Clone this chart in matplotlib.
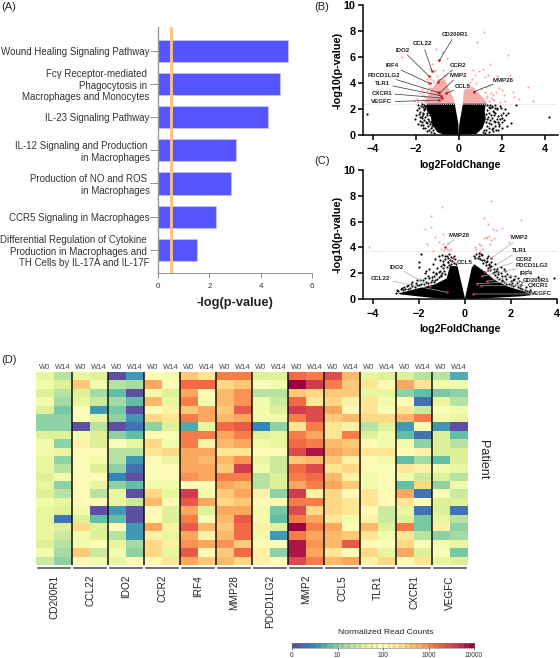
import numpy as np
import matplotlib
matplotlib.use("Agg")
import matplotlib.pyplot as plt

plt.rcParams['font.family'] = ['Liberation Sans', 'DejaVu Sans']

W, H = 560, 658

# panel A
pathways = ["Wound Healing Signaling Pathway",
            "Fc\u03b3 Receptor-mediated \nPhagocytosis in \nMacrophages and Monocytes",
            "IL-23 Signaling Pathway",
            "IL-12 Signaling and Production \nin Macrophages",
            "Production of NO and ROS \nin Macrophages",
            "CCR5 Signaling in Macrophages",
            "Differential Regulation of Cytokine \nProduction in Macrophages and \nTH Cells by IL-17A and IL-17F"]
pathway_vals = [5.05, 4.74, 4.29, 3.02, 2.86, 2.26, 1.51]
threshold = 0.5

# panel B, the dense cloud is kept as its outline
b_black_left_x = [-0.02, -0.19, -1.45, -1.5, -1.3, -1.25, -1.0, -0.7, 0]
b_black_left_y = [0.8, 2.4, 2.4, 1.9, 1.4, 0.8, 0.2, 0, 0]
b_black_right_x = [0.02, 0.19, 1.25, 1.2, 1.25, 1.1, 0.8, 0]
b_black_right_y = [0.8, 2.4, 2.4, 1.8, 1.2, 0.5, 0.05, 0]
b_pink_left_x = [-1.62, -1.4, -1.16, -0.95, -0.66, -0.48, -0.28, -0.19]
b_pink_left_y = [2.4, 3.14, 3.76, 4.3, 4.35, 3.58, 2.94, 2.4]
b_pink_right_x = [0.19, 0.22, 0.42, 0.7, 1.05, 1.35]
b_pink_right_y = [2.4, 3.32, 3.9, 3.62, 2.98, 2.4]
b_black_x = [-4.25, 4.2, 2.65, 2.3, 2.2, 2.4, -2.05, -1.95, -2.0, -1.9, -1.85, -1.75, -1.7, -1.65, -1.8,
             -1.75, -1.6, -1.7, -1.9, 1.7, 1.75, 1.8, 1.9, 2.0, 1.85, 1.95, 2.05, 2.0, 1.65, 1.7, 1.9, 1.6,
             2.15, 1.8, 1.7, -1.65, -1.85, -1.55, 2.1, 2.25, 1.55]
b_black_y = [1.6, 1.35, 2.3, 1.7, 1.55, 0.9, 1.25, 1.9, 1.55, 2.3, 2.1, 2.2, 1.45, 1.7, 1.05,
             0.75, 1.95, 2.35, 0.85, 2.3, 1.95, 1.45, 1.2, 1.0, 0.8, 2.05, 1.65, 0.55, 1.75, 0.95, 2.2, 0.55,
             2.0, 0.35, 2.1, 0.5, 1.6, 2.2, 1.15, 0.65, 2.25]
b_fringe = [(-1.52, 2.2), (-1.58, 2.05), (-1.62, 1.9), (-1.5, 1.7), (-1.46, 1.55), (-1.55, 1.4), (-1.42, 1.25),
            (-1.6, 1.15), (-1.38, 1.05), (-1.48, 0.9), (-1.35, 0.8), (-1.44, 0.65), (-1.3, 0.55), (-1.38, 0.4),
            (-1.22, 0.35), (-1.28, 0.2), (-1.15, 0.15), (-1.68, 1.6), (-1.72, 1.3), (-1.64, 0.75), (-1.56, 0.55),
            (-1.78, 1.75), (-1.82, 1.35), (-1.52, 1.0), (-1.34, 1.5), (-1.4, 1.85), (-1.6, 2.3), (-1.48, 2.32),
            (-1.66, 2.15), (-1.7, 0.95), (-1.3, 0.95), (-1.25, 0.65), (-1.46, 0.3),
            (1.3, 2.3), (1.38, 2.15), (1.45, 2.05), (1.32, 1.9), (1.4, 1.7), (1.28, 1.6), (1.5, 1.55), (1.36, 1.4),
            (1.55, 1.3), (1.3, 1.2), (1.45, 1.1), (1.62, 1.05), (1.25, 0.95), (1.38, 0.9), (1.5, 0.8), (1.66, 0.7),
            (1.3, 0.65), (1.42, 0.55), (1.15, 0.4), (1.28, 0.35), (1.52, 0.45), (1.1, 0.2), (1.22, 0.15), (1.58, 1.8),
            (1.62, 1.5), (1.75, 1.2), (1.8, 0.95), (1.7, 1.65), (1.55, 2.15), (1.45, 2.3), (1.72, 0.4), (1.85, 0.7),
            (1.6, 0.25), (1.95, 1.5), (2.0, 1.3), (1.75, 2.05), (1.4, 0.2)]
b_pink_x = [-2.65, -1.3, -1.05, -0.8, -0.55, -1.5, -1.7, -1.95, -2.1, -1.8, -1.6, -1.45, -1.35, -1.25, -1.15,
            -1.55, -1.75, -1.9, -1.3, -1.1, -0.95, -0.75, -0.7, -0.6, -1.0, -1.2, 1.15, 0.85, 2.3, 3.2, 3.45, 1.45,
            1.85, 2.1, 2.35, 2.55, 1.95, 1.75, 1.6, 1.4, 1.2, 1.1, 0.95, 0.75, 0.6, 0.5, 1.5, 1.3, 2.15, 1.05,
            0.8, 0.65, 1.65, 1.25, 0.9, 1.9, 2.8, 2.5, 2.0, 1.35,
            -1.68, -1.72, -1.5, -1.55, -1.38, -1.42, -1.22, -1.28, -1.35, -1.65, 1.42, 1.5, 1.58, 1.72, 1.2, 1.28]
b_pink_y = [6.0, 7.15, 6.6, 6.4, 5.95, 4.3, 3.5, 2.75, 2.6, 3.2, 3.0, 3.9, 5.1, 5.45, 4.9,
            2.9, 2.55, 2.5, 3.6, 5.0, 5.7, 5.0, 4.5, 4.65, 4.5, 4.2, 7.9, 7.15, 6.15, 3.7, 2.6, 5.5,
            3.6, 3.05, 4.6, 2.9, 4.15, 4.55, 3.1, 3.85, 4.45, 5.05, 4.9, 4.6, 4.3, 4.05, 2.85, 3.0, 2.6, 3.55,
            4.0, 5.0, 2.65, 2.8, 2.6, 2.55, 2.75, 3.3, 3.45, 4.6,
            2.7, 3.05, 3.35, 2.6, 3.6, 4.05, 4.1, 4.45, 4.3, 3.3, 2.6, 3.25, 2.75, 3.3, 3.3, 3.65]
b_genes = ["CD200R1", "CCL22", "IDO2", "IRF4", "PDCD1LG2", "TLR1", "CXCR1", "VEGFC", "CCR2", "MMP2", "CCL5", "MMP28"]
b_gene_x = [-0.9, -1.25, -1.4, -1.36, -0.97, -0.82, -0.77, -0.9, -0.97, -0.9, -0.59, 0.69]
b_gene_y = [5.75, 4.95, 4.55, 3.97, 3.27, 3.0, 2.83, 2.68, 4.1, 3.2, 3.2, 3.32]
b_text_x = [-0.17, -1.67, -2.61, -3.09, -3.46, -3.56, -3.58, -3.58, -0.02, -0.02, 0.19, 2.04]
b_text_y = [7.76, 7.01, 6.52, 5.31, 4.54, 3.94, 3.22, 2.53, 5.36, 4.59, 3.74, 4.2]
b_cut = 2.4

# panel C
c_black_left_x = [0, -0.32, -0.36, -0.65, -0.8, -1.3, -2.04, -2.6, -2.9, -2.8, -1.5, -0.6]
c_black_left_y = [0.05, 2.5, 2.55, 2.55, 1.6, 1.14, 0.83, 0.57, 0.44, 0.35, 0.1, 0]
c_black_right_x = [0, 0.29, 0.4, 0.87, 1.3, 1.9, 2.6, 2.9, 2.4, 1.2, 0.3]
c_black_right_y = [0.05, 2.4, 2.7, 2.1, 1.47, 0.95, 0.57, 0.3, 0.2, 0.08, 0]
c_black_x = [-2.0, -1.9, -1.75, -1.55, -1.4, -1.3, -1.2, -1.1, -1.0, -0.95, -0.85, -0.8, -0.75, -0.7, -1.25,
             -1.6, -1.85, -2.1, -2.3, -2.5, -2.65, -1.45, -1.15, -1.05, -0.9, 0.75, 0.85, 0.95, 1.05, 1.15, 1.3,
             1.4, 1.55, 1.7, 1.85, 1.95, 2.1, 2.3, 2.5, 2.75, 3.0, 3.2, 3.9, 1.25, 1.45, 1.6, 1.75, 2.2, 2.4,
             0.9, 1.0, 1.1, 0.7, 0.6, 2.05, 2.65, 2.85]
c_black_y = [2.9, 3.45, 2.0, 2.35, 2.7, 3.1, 2.4, 3.0, 3.4, 2.95, 3.1, 3.35, 2.9, 3.5, 1.9,
             1.8, 1.5, 1.5, 1.3, 1.1, 0.95, 1.7, 2.1, 1.85, 2.6, 3.4, 3.05, 3.2, 2.6, 2.9, 2.7,
             2.3, 2.5, 2.3, 1.9, 1.75, 1.5, 1.6, 1.3, 2.2, 1.2, 1.7, 1.6, 2.1, 1.9, 1.5, 2.15, 1.8, 1.1,
             2.85, 3.3, 2.45, 3.45, 3.35, 1.25, 1.5, 0.95]
c_fringe = [(-0.6, 2.7), (-0.5, 2.8), (-0.7, 2.65), (-0.4, 2.75), (-0.55, 2.95), (-0.65, 3.05), (-0.45, 3.1),
            (-0.75, 2.85), (-0.8, 2.5), (-0.9, 2.2), (-0.95, 2.4), (-1.0, 2.0), (-0.85, 1.95), (-1.05, 1.75),
            (-1.15, 1.7), (-1.2, 1.55), (-1.3, 1.5), (-1.35, 1.35), (-1.45, 1.45), (-1.5, 1.3), (-1.6, 1.25),
            (-1.7, 1.35), (-1.8, 1.15), (-1.9, 1.2), (-2.0, 1.1), (-2.1, 1.05), (-2.2, 0.95), (-2.3, 1.0), (-2.4, 0.85),
            (-2.5, 0.8), (-2.6, 0.75), (-2.7, 0.7), (-2.8, 0.75), (-2.9, 0.6), (-3.0, 0.5), (-2.95, 0.7), (-2.75, 0.85),
            (-2.55, 1.0), (-2.35, 1.15), (-2.15, 1.25), (-1.95, 1.45), (-1.75, 1.6), (-1.55, 1.6), (-1.35, 1.75),
            (-1.25, 2.0), (-1.1, 2.2), (-0.95, 2.75), (-0.85, 3.3), (-0.6, 3.25), (-0.5, 3.3), (-1.05, 2.55),
            (-1.4, 2.1), (-1.7, 2.2), (-2.0, 2.45), (-1.15, 3.3), (-0.75, 3.2),
            (0.45, 3.15), (0.55, 3.2), (0.65, 3.1), (0.75, 3.0), (0.4, 3.3), (0.5, 3.45), (0.6, 3.55), (0.8, 2.8),
            (0.9, 2.6), (1.0, 2.4), (1.1, 2.25), (1.2, 2.0), (1.3, 1.85), (1.4, 1.7), (1.5, 1.55), (1.6, 1.4),
            (1.7, 1.3), (1.8, 1.2), (1.9, 1.15), (2.0, 1.1), (2.1, 1.0), (2.2, 1.05), (2.3, 0.95), (2.4, 0.85),
            (2.5, 0.8), (2.6, 0.7), (2.7, 0.65), (2.8, 0.55), (2.9, 0.45), (2.85, 0.7), (2.65, 0.95), (2.45, 1.1),
            (2.25, 1.25), (2.0, 1.4), (1.8, 1.55), (1.6, 1.8), (1.45, 2.1), (1.25, 2.35), (1.05, 2.75), (0.95, 2.95),
            (1.15, 2.55), (1.35, 2.2), (1.55, 2.0), (1.75, 1.75), (1.95, 1.7), (2.15, 1.55), (2.35, 1.4)]
c_pink_x = [-4.2, -1.5, -1.5, -1.75, -1.0, -0.95, -1.65, -1.3, -1.15, -1.05, -0.95, -0.8, -0.7, -0.6, -1.4,
            -0.9, -0.75, 1.15, 0.85, 2.45, 1.0, 1.2, 1.35, 1.6, 1.95, 2.05, 2.25, 0.9, 1.05, 1.15, 0.95, 0.85, 0.7,
            0.6, 0.5, 0.75, 1.1, 1.25, 1.9, 0.65, 0.45]
c_pink_y = [4.05, 6.4, 5.6, 5.4, 7.1, 5.05, 4.3, 4.8, 4.4, 3.9, 4.3, 3.9, 3.8, 3.85, 3.75,
            3.8, 4.35, 7.6, 6.3, 6.1, 5.85, 5.4, 5.35, 5.5, 5.0, 4.75, 5.0, 4.8, 4.85, 4.6, 4.75, 4.7, 4.15,
            4.25, 3.85, 3.85, 4.3, 4.7, 4.45, 3.75, 4.0]
c_genes = ["MMP28", "MMP2", "TLR1", "CCR2", "PDCD1LG2", "IRF4", "CD200R1", "CXCR1", "VEGFC", "CCL5", "IDO2", "CCL22"]
c_gene_x = [-0.87, 1.15, 1.02, 0.87, 0.73, 0.95, 0.51, 0.68, 0.36, -0.51, -1.53, -0.8]
c_gene_y = [4.03, 3.18, 2.27, 2.09, 1.76, 1.37, 1.19, 1.03, 0.39, 3.18, 0.98, 0.52]
c_text_x = [-0.25, 2.39, 2.37, 2.57, 2.92, 2.65, 3.1, 3.2, 3.35, -0.01, -2.98, -3.69]
c_text_y = [4.96, 4.75, 3.75, 3.1, 2.61, 1.94, 1.42, 1.03, 0.39, 2.82, 2.48, 1.58]
c_cut = 3.7

# panel D, log10 of normalized read counts, W0 and W14 for each gene, 23 patients
heat_genes = ["CD200R1", "CCL22", "IDO2", "CCR2", "IRF4", "MMP28", "PDCD1LG2", "MMP2", "CCL5", "TLR1", "CXCR1", "VEGFC"]
cd200r1_w0 = [1.65, 1.75, 1.5, 1.75, 1.5, 1.1, 1.1, 1.6, 1.75, 1.8, 1.65, 1.65, 1.5, 1.65, 1.5, 1.8, 1.7, 1.65, 1.7, 1.7, 1.5, 1.75, 1.45]
cd200r1_w14 = [1.25, 1.5, 1.3, 1.15, 0.9, 1.1, 1.1, 1.6, 1.1, 1.65, 1.1, 1.35, 1.75, 1.1, 1.35, 1.7, 1.5, 0.3, 1.55, 1.45, 1.35, 1.15, 1.05]
ccl22_w0 = [1.7, 2.5, 1.6, 1.65, 1.9, 1.9, 0.0, 1.85, 2.2, 2.0, 1.95, 1.95, 2.0, 2.0, 2.0, 2.05, 1.8, 1.5, 2.4, 1.85, 1.8, 2.5, 2.05]
ccl22_w14 = [1.5, 1.8, 1.15, 1.45, 0.6, 1.7, 1.25, 1.55, 1.55, 2.0, 1.75, 1.55, 2.0, 1.7, 1.3, 2.0, 0.0, 0.85, 1.55, 1.55, 1.9, 1.4, 1.8]
ido2_w0 = [0.02, 1.35, 0.85, 1.2, 0.95, 1.05, 0.02, 1.1, 1.9, 1.25, 1.25, 1.1, 0.4, 1.1, 1.7, 1.65, 0.6, 0.75, 2.05, 1.25, 1.65, 1.85, 1.7]
ido2_w14 = [0.6, 1.15, 0.02, 0.85, 0.1, 0.6, 0.35, 0.8, 1.65, 1.25, 0.6, 0.25, 0.02, 0.85, 0.02, 1.45, 0.02, 0.02, 0.5, 0.6, 1.2, 1.1, 2.0]
ccr2_w0 = [2.0, 2.75, 1.85, 2.65, 1.95, 2.45, 1.0, 2.05, 2.45, 2.35, 2.0, 1.9, 1.9, 1.85, 2.4, 2.65, 2.05, 2.05, 2.75, 2.2, 2.45, 2.4, 2.05]
ccr2_w14 = [1.75, 2.0, 1.55, 1.7, 2.2, 2.25, 1.5, 1.95, 1.8, 2.45, 1.7, 2.0, 2.0, 1.8, 1.65, 2.05, 1.5, 1.5, 2.15, 1.7, 2.2, 1.65, 2.3]
irf4_w0 = [2.55, 3.2, 2.8, 3.1, 2.5, 3.0, 0.65, 3.1, 3.1, 2.85, 2.85, 2.85, 2.9, 2.05, 3.5, 3.35, 2.8, 3.1, 3.3, 2.85, 2.95, 3.25, 2.75]
irf4_w14 = [2.25, 3.2, 2.05, 1.8, 2.8, 2.85, 1.7, 3.0, 2.15, 2.85, 2.65, 2.85, 2.85, 2.05, 1.75, 2.75, 1.5, 1.95, 2.65, 2.15, 2.85, 2.0, 2.6]
mmp28_w0 = [3.0, 2.45, 2.7, 2.7, 2.6, 2.7, 3.15, 2.85, 2.65, 2.25, 2.7, 2.6, 3.0, 2.85, 2.5, 2.4, 2.75, 2.7, 2.6, 2.65, 2.95, 2.55, 2.65]
mmp28_w14 = [3.0, 2.6, 2.95, 2.95, 3.3, 2.8, 3.3, 3.05, 2.85, 2.35, 2.95, 3.5, 3.0, 2.7, 2.85, 2.5, 2.85, 3.25, 3.15, 3.15, 2.5, 3.15, 2.45]
pdcd1lg2_w0 = [1.5, 1.95, 1.35, 1.75, 1.75, 1.85, 0.45, 1.5, 1.85, 2.0, 1.65, 1.85, 1.35, 1.25, 2.15, 2.05, 1.8, 1.85, 2.15, 1.85, 2.05, 2.15, 2.2]
pdcd1lg2_w14 = [1.5, 1.8, 1.25, 1.4, 1.5, 1.75, 1.05, 1.65, 1.65, 2.0, 1.4, 1.4, 1.6, 1.6, 1.1, 2.0, 0.9, 0.8, 1.5, 0.55, 2.0, 1.1, 1.95]
mmp2_w0 = [3.2, 4.0, 2.5, 3.2, 3.6, 3.1, 2.25, 3.0, 3.2, 3.4, 2.5, 3.2, 3.0, 2.8, 3.6, 3.05, 3.45, 3.1, 4.0, 3.1, 3.8, 3.8, 3.45]
mmp2_w14 = [3.0, 3.6, 2.4, 2.35, 3.4, 3.45, 3.0, 2.8, 3.0, 3.8, 2.65, 3.45, 3.15, 3.05, 2.15, 3.0, 2.45, 2.85, 3.1, 2.75, 2.95, 2.85, 3.1]
ccl5_w0 = [3.45, 3.1, 2.5, 2.45, 2.75, 2.6, 2.35, 2.25, 2.65, 2.85, 2.6, 2.35, 2.65, 2.85, 2.45, 2.4, 2.45, 2.35, 2.85, 2.7, 2.7, 2.3, 2.7]
ccl5_w14 = [2.7, 2.6, 2.5, 2.15, 2.05, 2.7, 2.15, 3.0, 2.55, 2.65, 2.2, 2.45, 2.2, 2.6, 2.1, 2.35, 2.35, 1.85, 2.05, 2.6, 3.3, 1.95, 2.75]
tlr1_w0 = [1.7, 2.3, 1.7, 2.3, 2.3, 2.4, 1.25, 1.6, 2.05, 2.35, 2.05, 2.05, 1.85, 1.85, 2.3, 2.25, 2.0, 2.2, 2.7, 2.25, 2.05, 2.4, 2.2]
tlr1_w14 = [1.55, 2.05, 1.7, 1.8, 1.9, 2.45, 1.5, 1.8, 1.75, 2.25, 1.75, 1.95, 2.0, 1.95, 2.0, 2.0, 1.45, 1.45, 1.6, 1.8, 1.95, 1.65, 2.45]
cxcr1_w0 = [1.6, 2.8, 1.05, 2.0, 2.3, 2.65, 0.6, 0.85, 1.8, 2.0, 0.8, 2.35, 1.8, 0.8, 2.8, 2.35, 1.7, 1.55, 3.05, 2.25, 2.4, 2.85, 2.0]
cxcr1_w14 = [1.25, 2.25, 0.85, 0.35, 1.45, 3.0, 2.0, 0.35, 1.05, 2.15, 1.2, 2.2, 1.45, 2.45, 0.25, 1.9, 0.35, 0.9, 0.9, 1.25, 1.95, 1.6, 2.35]
vegfc_w0 = [1.25, 1.75, 0.9, 1.7, 1.95, 1.75, 0.6, 1.5, 1.6, 1.5, 0.8, 1.75, 1.5, 1.05, 1.9, 1.55, 1.5, 1.7, 2.15, 1.05, 1.75, 1.9, 1.7]
vegfc_w14 = [0.65, 1.8, 1.05, 1.3, 1.75, 1.65, 0.05, 0.8, 1.35, 1.5, 1.5, 1.7, 1.35, 1.75, 1.4, 1.55, 0.35, 1.3, 1.05, 1.2, 1.65, 0.95, 1.55]
scale_labels = ["0", "10", "100", "1000", "10000"]


def px_axes(x0, y0, x1, y1):
    # pixel box measured from the top left of the picture
    return fig.add_axes([x0 / W, 1 - y1 / H, (x1 - x0) / W, (y1 - y0) / H])


fig = plt.figure(figsize=(W / 100, H / 100), dpi=100)

for txt, x, y in [("(A)", 1, 7), ("(B)", 314, 7), ("(C)", 314, 161), ("(D)", 1, 360)]:
    fig.text(x / W, 1 - y / H, txt, fontsize=8, color='#222222', va='center')

# (A)
ax = px_axes(158, 27, 312, 273)
ypos = np.arange(len(pathways))
ax.barh(ypos, pathway_vals, height=0.67, color='#5555ff', edgecolor='#c5c5ff', linewidth=0.6)
ax.axvline(threshold, color='#ffc078', linewidth=2)
ax.set_xlim(0, 6)
ax.set_ylim(6.7, -0.72)
ax.set_yticks(ypos, pathways, fontsize=7, color='#333333', ha='right', linespacing=1.2)
ax.set_xticks([0, 2, 4, 6])
ax.tick_params(axis='x', labelsize=5.8, length=3.5, width=0.5, color='#666666', pad=4, labelcolor='#333333')
ax.tick_params(axis='y', length=6, width=0.5, color='#666666', pad=0)
ax.set_xlabel("-log(p-value)", fontsize=9.3, fontweight='bold', color='#222222', labelpad=5)
for side in ['top', 'right']:
    ax.spines[side].set_visible(False)
ax.spines['left'].set_color('#999999')
ax.spines['left'].set_linewidth(1.0)
ax.spines['bottom'].set_color('#666666')
ax.spines['bottom'].set_linewidth(0.5)


def volcano(ax, polys_black, polys_pink, bx, by, px, py, genes, gx, gy, tx, ty, cut, xlim, line_col):
    for xs, ys in polys_pink:
        ax.fill(xs, ys, color='#f7acac', linewidth=0, zorder=1)
    for xs, ys in polys_black:
        ax.fill(xs, ys, color='black', linewidth=0, zorder=2)
    ax.scatter(px, py, s=2.2, color='#f7a3a3', linewidths=0, zorder=3)
    ax.scatter(bx, by, s=2.4, color='black', linewidths=0, zorder=3)
    ax.axhline(cut, color='#d8d8d8', linewidth=0.7, linestyle=(0, (1, 1)), zorder=2.5)
    ax.scatter(gx, gy, s=3.5, color='#c0202a', linewidths=0, zorder=4)
    for g, x, y, x2, y2 in zip(genes, gx, gy, tx, ty):
        ax.annotate(g, xy=(x, y), xytext=(x2, y2), fontsize=4.4, fontweight='bold', color='#222222',
                    ha='center', va='center', zorder=5,
                    bbox=dict(facecolor='white', edgecolor='none', pad=0.2, alpha=0.6),
                    arrowprops=dict(arrowstyle='-', color=line_col, linewidth=0.5, shrinkA=2, shrinkB=0))
    ax.set_xlim(*xlim)
    ax.set_ylim(0, 10)
    ax.set_xticks([-4, -2, 0, 2, 4])
    ax.set_yticks([0, 2, 4, 6, 8, 10])
    ax.tick_params(labelsize=7.8, length=3.5, width=1.1, pad=1.5)
    ax.tick_params(axis='x', pad=3.5)
    for lab in ax.get_xticklabels() + ax.get_yticklabels():
        lab.set_fontweight('bold')
    ax.set_xlabel("log2FoldChange", fontsize=7.5, fontweight='bold', labelpad=4)
    ax.set_ylabel("-log10(p-value)", fontsize=7.8, fontweight='bold', labelpad=1)
    for side in ['top', 'right']:
        ax.spines[side].set_visible(False)
    ax.spines['left'].set_linewidth(1.1)
    ax.spines['bottom'].set_linewidth(1.1)


# (B)
ax = px_axes(362.5, 5.3, 558, 134.7)
b_extra = np.array(b_fringe)
volcano(ax, [(b_black_left_x, b_black_left_y), (b_black_right_x, b_black_right_y)],
        [(b_pink_left_x, b_pink_left_y), (b_pink_right_x, b_pink_right_y)],
        b_black_x + list(b_extra[:, 0]), b_black_y + list(b_extra[:, 1]), b_pink_x, b_pink_y,
        b_genes, b_gene_x, b_gene_y, b_text_x, b_text_y, b_cut, (-4.47, 4.6), '#333333')

# (C)
ax = px_axes(362.5, 170, 556.7, 299)
c_extra = np.array(c_fringe)
volcano(ax, [(c_black_left_x, c_black_left_y), (c_black_right_x, c_black_right_y)], [],
        c_black_x + list(c_extra[:, 0]), c_black_y + list(c_extra[:, 1]), c_pink_x, c_pink_y,
        c_genes, c_gene_x, c_gene_y, c_text_x, c_text_y, c_cut, (-4.47, 4.0), '#aaaaaa')

# (D)
columns = [cd200r1_w0, cd200r1_w14, ccl22_w0, ccl22_w14, ido2_w0, ido2_w14, ccr2_w0, ccr2_w14,
           irf4_w0, irf4_w14, mmp28_w0, mmp28_w14, pdcd1lg2_w0, pdcd1lg2_w14, mmp2_w0, mmp2_w14,
           ccl5_w0, ccl5_w14, tlr1_w0, tlr1_w14, cxcr1_w0, cxcr1_w14, vegfc_w0, vegfc_w14]
heat = np.array(columns).T
cmap = plt.get_cmap('Spectral_r', 32)
ax = px_axes(36, 372, 468, 565)
ax.imshow(heat, cmap=cmap, vmin=0, vmax=4, aspect='auto', interpolation='nearest')
ax.set_xticks([])
ax.set_yticks([])
for side in ax.spines:
    ax.spines[side].set_visible(False)
for i in range(1, len(heat_genes)):
    ax.axvline(2 * i - 0.5, color='#111111', linewidth=1.1)
for i, g in enumerate(heat_genes):
    ax.text(2 * i, -1.05, "W0", fontsize=5.4, color='#444444', ha='center', va='center')
    ax.text(2 * i + 1, -1.05, "W14", fontsize=5.4, color='#444444', ha='center', va='center')
    ax.plot([2 * i - 0.4, 2 * i + 1.4], [22.9, 22.9], color='#555555', linewidth=1.2, clip_on=False)
    ax.text(2 * i + 0.5, 23.7, g, rotation=90, fontsize=7.2, color='#222222', ha='center', va='top')
ax.set_xlim(-0.5, 23.5)
ax.set_ylim(22.5, -0.5)
fig.text(483 / W, 1 - 460 / H, "Patient", rotation=-90, fontsize=9, color='#222222', ha='center', va='center')

# scale bar
cax = px_axes(292, 642.7, 474, 648)
cax.imshow(np.linspace(0, 4, 32)[None, :], cmap=cmap, vmin=0, vmax=4, aspect='auto', extent=[0, 4, 0, 1])
for v in np.arange(0.125, 4, 0.125):
    cax.axvline(v, color='#666666', linewidth=0.25)
cax.set_yticks([])
cax.set_xticks(range(5), scale_labels)
cax.tick_params(labelsize=4.8, length=1.5, width=0.4, pad=1.2, labelcolor='#333333')
for side in cax.spines:
    cax.spines[side].set_linewidth(0.4)
    cax.spines[side].set_color('#777777')
fig.text(386 / W, 1 - 633 / H, "Normalized Read Counts", fontsize=6.1, color='#222222', ha='center', va='center')

fig.savefig("out.png", dpi=100)
